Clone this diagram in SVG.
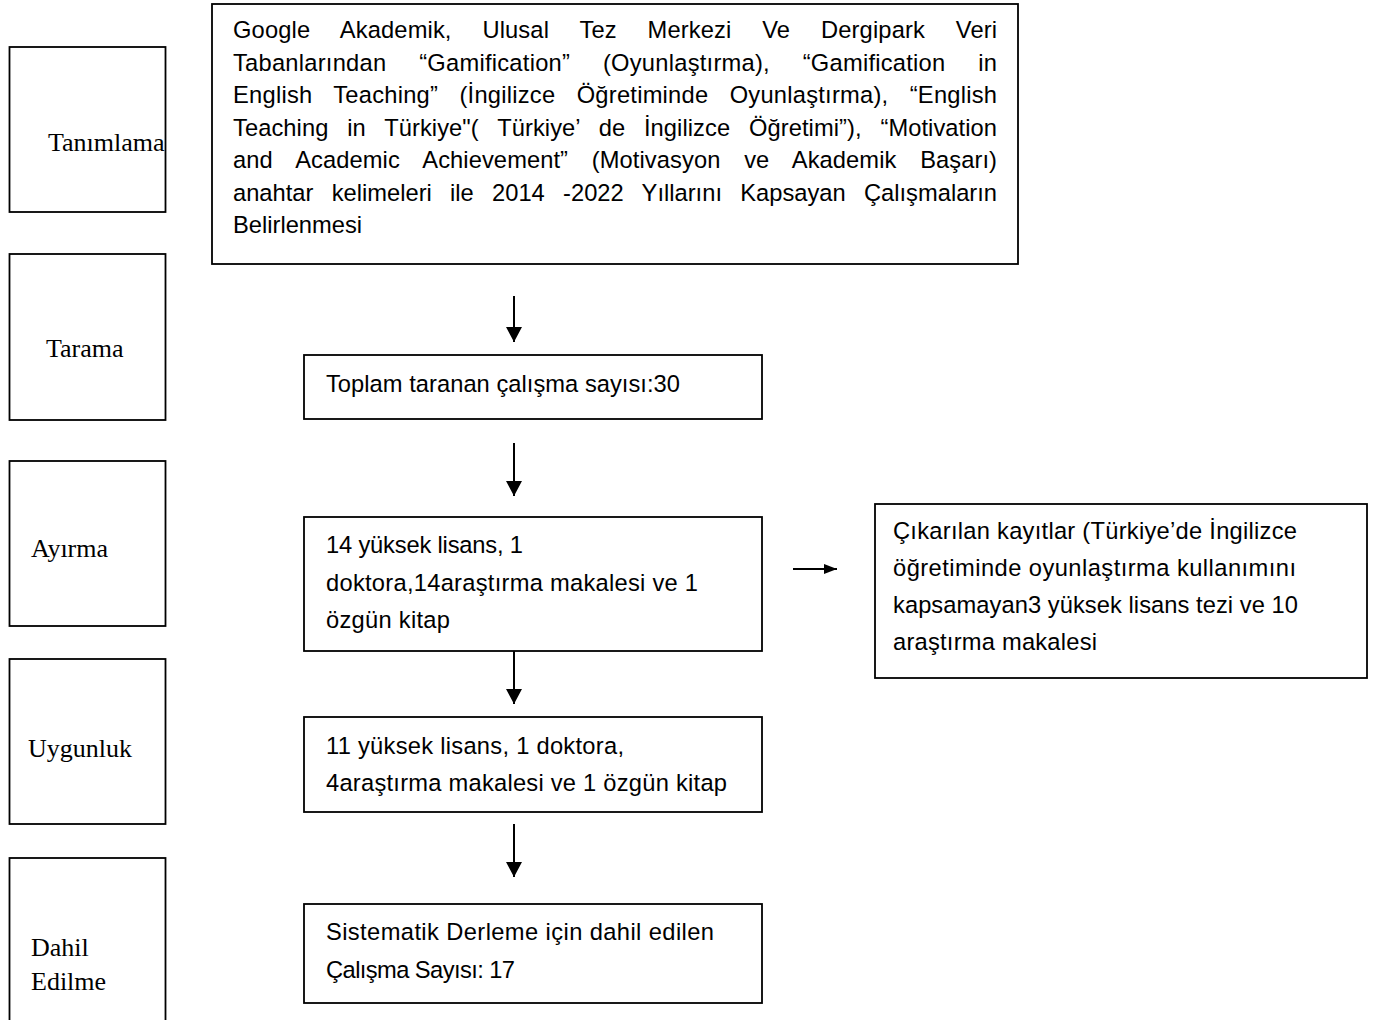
<svg xmlns="http://www.w3.org/2000/svg" width="1375" height="1020" viewBox="0 0 1375 1020">
<style>
.box{fill:#fff;stroke:#000;stroke-width:1.8}
.lbl{font-family:"Liberation Serif","Times New Roman",serif;font-size:26px;fill:#000}
.txt{font-family:"Liberation Sans",Arial,sans-serif;font-size:23.7px;fill:#000}
.arr{stroke:#000;stroke-width:2;fill:none}
</style>
<defs>
<marker id="ah" markerUnits="userSpaceOnUse" markerWidth="16" markerHeight="16" refX="15" refY="8" orient="auto">
<path d="M0,0 L15,8 L0,16 z" fill="#000"/>
</marker>
<marker id="ahs" markerUnits="userSpaceOnUse" markerWidth="14" markerHeight="10" refX="13" refY="5" orient="auto">
<path d="M0,0 L13,5 L0,10 z" fill="#000"/>
</marker>
</defs>
<rect width="1375" height="1020" fill="#fff"/>

<g id="stage-tanimlama">
<rect class="box" x="9.5" y="47" width="156" height="165"/>
<text class="lbl" x="48" y="151">Tanımlama</text>
</g>
<g id="stage-tarama">
<rect class="box" x="9.5" y="254" width="156" height="166"/>
<text class="lbl" x="46" y="357">Tarama</text>
</g>
<g id="stage-ayirma">
<rect class="box" x="9.5" y="461" width="156" height="165"/>
<text class="lbl" x="31" y="557">Ayırma</text>
</g>
<g id="stage-uygunluk">
<rect class="box" x="9.5" y="659" width="156" height="165"/>
<text class="lbl" x="28" y="757">Uygunluk</text>
</g>
<g id="stage-dahil">
<rect class="box" x="9.5" y="858" width="156" height="175"/>
<text class="lbl" x="31" y="956">Dahil</text>
<text class="lbl" x="31" y="990">Edilme</text>
</g>

<g id="node-identification">
<rect class="box" x="212" y="4" width="806" height="260"/>
<text class="txt">
<tspan x="233" y="38" word-spacing="24.1" textLength="764" lengthAdjust="spacing">Google Akademik, Ulusal Tez Merkezi Ve Dergipark Veri</tspan>
<tspan x="233" y="70.5" word-spacing="26" textLength="764" lengthAdjust="spacing">Tabanlarından “Gamification” (Oyunlaştırma), “Gamification in</tspan>
<tspan x="233" y="103" word-spacing="14.5" textLength="764" lengthAdjust="spacing">English Teaching” (İngilizce Öğretiminde Oyunlaştırma), “English</tspan>
<tspan x="233" y="135.5" word-spacing="12.2" textLength="764" lengthAdjust="spacing">Teaching in Türkiye"( Türkiye’ de İngilizce Öğretimi”), “Motivation</tspan>
<tspan x="233" y="168" word-spacing="17.1" textLength="764" lengthAdjust="spacing">and Academic Achievement” (Motivasyon ve Akademik Başarı)</tspan>
<tspan x="233" y="200.5" word-spacing="11.7" textLength="764" lengthAdjust="spacing">anahtar kelimeleri ile 2014 -2022 Yıllarını Kapsayan Çalışmaların</tspan>
<tspan x="233" y="233">Belirlenmesi</tspan>
</text>
</g>

<g id="node-screening">
<rect class="box" x="304" y="355" width="458" height="64"/>
<text class="txt" x="326" y="392" textLength="354" lengthAdjust="spacing">Toplam taranan çalışma sayısı:30</text>
</g>

<g id="node-separation">
<rect class="box" x="304" y="517" width="458" height="134"/>
<text class="txt">
<tspan x="326" y="553" textLength="197" lengthAdjust="spacing">14 yüksek lisans, 1</tspan>
<tspan x="326" y="591" textLength="372" lengthAdjust="spacing">doktora,14araştırma makalesi ve 1</tspan>
<tspan x="326" y="628" textLength="124" lengthAdjust="spacing">özgün kitap</tspan>
</text>
</g>

<g id="node-excluded">
<rect class="box" x="875" y="504" width="492" height="174"/>
<text class="txt">
<tspan x="893" y="539" textLength="404" lengthAdjust="spacing">Çıkarılan kayıtlar (Türkiye’de İngilizce</tspan>
<tspan x="893" y="576" textLength="403" lengthAdjust="spacing">öğretiminde oyunlaştırma kullanımını</tspan>
<tspan x="893" y="613" textLength="405" lengthAdjust="spacing">kapsamayan3 yüksek lisans tezi ve 10</tspan>
<tspan x="893" y="650" textLength="204" lengthAdjust="spacing">araştırma makalesi</tspan>
</text>
</g>

<g id="node-eligibility">
<rect class="box" x="304" y="717" width="458" height="95"/>
<text class="txt">
<tspan x="326" y="754" textLength="298" lengthAdjust="spacing">11 yüksek lisans, 1 doktora,</tspan>
<tspan x="326" y="791" textLength="401" lengthAdjust="spacing">4araştırma makalesi ve 1 özgün kitap</tspan>
</text>
</g>

<g id="node-included">
<rect class="box" x="304" y="904" width="458" height="99"/>
<text class="txt">
<tspan x="326" y="940" textLength="388" lengthAdjust="spacing">Sistematik Derleme için dahil edilen</tspan>
<tspan x="326" y="978" textLength="189" lengthAdjust="spacing">Çalışma Sayısı: 17</tspan>
</text>
</g>

<g id="connectors">
<line class="arr" x1="514" y1="296" x2="514" y2="342" marker-end="url(#ah)"/>
<line class="arr" x1="514" y1="443" x2="514" y2="496" marker-end="url(#ah)"/>
<line class="arr" x1="514" y1="651" x2="514" y2="704" marker-end="url(#ah)"/>
<line class="arr" x1="514" y1="824" x2="514" y2="877" marker-end="url(#ah)"/>
<line class="arr" x1="793" y1="569" x2="837" y2="569" marker-end="url(#ahs)"/>
</g>
</svg>
